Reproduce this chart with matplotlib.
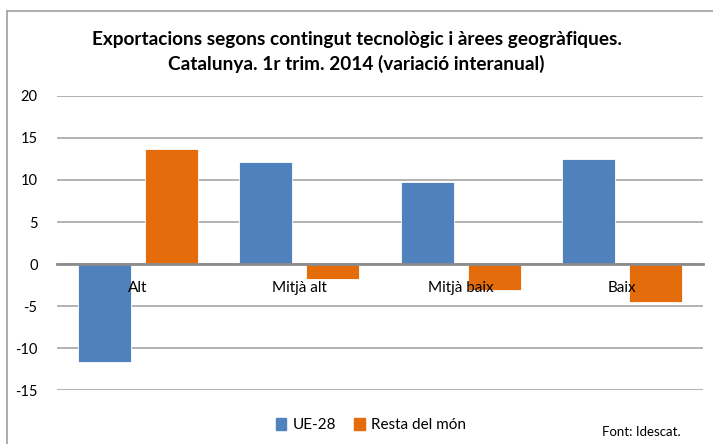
import numpy as np
import matplotlib
matplotlib.use("Agg")
import matplotlib.pyplot as plt
from matplotlib.lines import Line2D
from matplotlib.patches import Patch

plt.rcParams['font.family'] = ['Lato', 'DejaVu Sans']

categories = ["Alt", "Mitjà alt", "Mitjà baix", "Baix"]
ue28 = [-11.7, 12.2, 9.8, 12.5]
resta = [13.7, -1.8, -3.1, -4.5]
yticks = [-15, -10, -5, 0, 5, 10, 15, 20]

blue = '#4f81bd'
orange = '#e46c0a'
grid = '#a6a6a6'

fig = plt.figure(figsize=(7.13, 4.44), dpi=100)
ax = fig.add_axes([0.08, 0.1216, 0.906, 0.6622])

x = np.arange(len(categories))
w = 0.33
ax.bar(x - 0.207, ue28, width=w, color=blue, edgecolor='white', linewidth=0.6, zorder=3)
ax.bar(x + 0.207, resta, width=w, color=orange, edgecolor='white', linewidth=0.6, zorder=3)

ax.set_xlim(-0.5, len(categories) - 0.5)
ax.set_ylim(-15, 20)
ax.set_yticks(yticks)
ax.set_yticklabels([str(v) for v in yticks], fontsize=10.5)
ax.yaxis.grid(True, color=grid, linewidth=1.2, zorder=0)
ax.tick_params(axis='y', length=0, pad=14)

for s in ['top', 'right', 'left']:
    ax.spines[s].set_visible(False)
ax.spines['bottom'].set_position(('data', 0))
ax.spines['bottom'].set_color('#8c8c8c')
ax.spines['bottom'].set_linewidth(2)
ax.spines['bottom'].set_zorder(4)
ax.set_xticks(x)
ax.set_xticklabels(categories, fontsize=11)
ax.tick_params(axis='x', length=0, pad=12)
ax.xaxis.set_zorder(5)

fig.text(0.5, 0.91, "Exportacions segons contingut tecnològic i àrees geogràfiques.",
         ha='center', va='center', fontsize=13.7, fontweight='bold')
fig.text(0.5, 0.857, "Catalunya. 1r trim. 2014 (variació interanual)",
         ha='center', va='center', fontsize=13.7, fontweight='bold')

handles = [Patch(color=blue, label='UE-28'), Patch(color=orange, label='Resta del món')]
fig.legend(handles=handles, loc='center', bbox_to_anchor=(0.52, 0.043), ncol=2,
           frameon=False, fontsize=11, handlelength=0.7, handleheight=0.9,
           handletextpad=0.4, columnspacing=1.2)

fig.text(0.955, 0.027, "Font: Idescat.", ha='right', va='center', fontsize=9.5)

# chart border
fx = 7 / 713
fy = 1 - 11 / 444
fig.add_artist(Line2D([fx, fx], [0, fy], transform=fig.transFigure, color='#a0a0a0', linewidth=1.2))
fig.add_artist(Line2D([fx, 1], [fy, fy], transform=fig.transFigure, color='#a0a0a0', linewidth=1.2))

fig.savefig("out.png", dpi=100)
